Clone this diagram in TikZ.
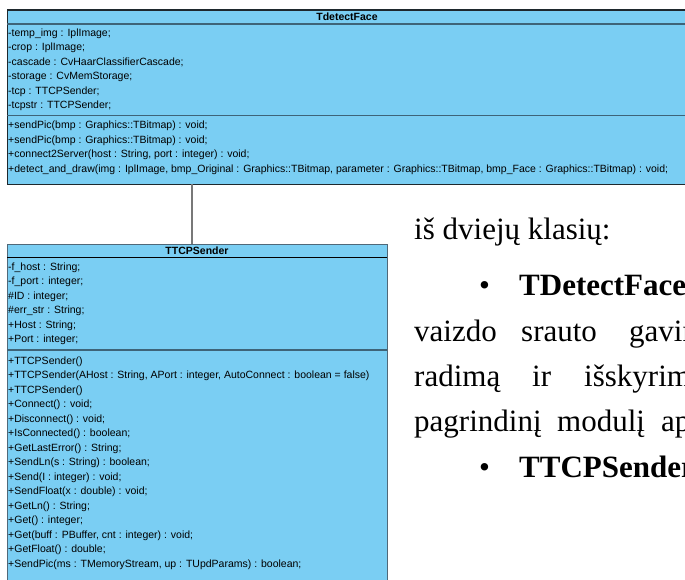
\documentclass[tikz,border=0pt]{standalone}
\usepackage{fontspec}
\setmainfont{Liberation Serif}
\newfontfamily\umlfont{Liberation Sans}
\definecolor{umlfill}{RGB}{122,206,243}
\definecolor{umlsep}{RGB}{62,100,120}
\definecolor{umlborder}{RGB}{30,40,45}
\definecolor{umlborderb}{RGB}{80,104,120}
\definecolor{linkgray}{RGB}{120,120,120}
\tikzset{
  classbox/.style={rectangle, fill=umlfill, inner sep=0pt, anchor=north west},
  sepline/.style={umlsep, line width=1.1pt},
  attr/.style={anchor=west, inner sep=0pt, font=\umlfont\fontsize{10.5}{12}\selectfont, text=black},
  ttl/.style={anchor=center, inner sep=0pt, font=\umlfont\bfseries\fontsize{10.5}{12}\selectfont, text=black},
  doc/.style={anchor=base west, inner sep=0pt, font=\fontsize{31}{36}\selectfont, text=black},
  docb/.style={doc, font=\fontsize{31}{36}\selectfont\bfseries},
  link/.style={linkgray, line width=1.2pt},
}
\begin{document}
\begin{tikzpicture}[x=1pt,y=-1pt]
\useasboundingbox (0,0) rectangle (685,580);
\clip (0,0) rectangle (685,580);
\fill[white] (0,0) rectangle (685,580);

% ---------- TdetectFace ----------
\node[classbox, draw=umlborder, line width=1.1pt, minimum width=680pt, minimum height=174.5pt] (tdf) at (7,9.5) {};
\draw[sepline] (7,24) -- (687,24);
\draw[sepline] (7,115.5) -- (687,115.5);
\node[ttl] (tdft) at (347,16.5) {TdetectFace};
\node[attr] (a1) at (8,33.5) {-temp\_img : IplImage;};
\node[attr] (a2) at (8,48) {-crop : IplImage;};
\node[attr] (a3) at (8,62.5) {-cascade : CvHaarClassifierCascade;};
\node[attr] (a4) at (8,77) {-storage : CvMemStorage;};
\node[attr] (a5) at (8,91.5) {-tcp : TTCPSender;};
\node[attr] (a6) at (8,106) {-tcpstr : TTCPSender;};
\node[attr] (m1) at (8,126) {+sendPic(bmp : Graphics::TBitmap) : void;};
\node[attr] (m2) at (8,140.5) {+sendPic(bmp : Graphics::TBitmap) : void;};
\node[attr] (m3) at (8,155) {+connect2Server(host : String, port : integer) : void;};
\node[attr] (m4) at (8,169.5) {+detect\_and\_draw(img : IplImage, bmp\_Original : Graphics::TBitmap, parameter : Graphics::TBitmap, bmp\_Face : Graphics::TBitmap) : void;};

% ---------- TTCPSender ----------
\node[classbox, draw=umlborderb, line width=1.1pt, minimum width=380pt, minimum height=350pt] (tcp) at (7,243.5) {};
\draw[black, line width=1.1pt] (7,257.5) -- (387,257.5);
\draw[sepline] (7,350) -- (387,350);
\node[ttl] (tcpt) at (197,251) {TTCPSender};
\node[attr] (b1) at (8,267.5) {-f\_host : String;};
\node[attr] (b2) at (8,282) {-f\_port : integer;};
\node[attr] (b3) at (8,296.5) {\#ID : integer;};
\node[attr] (b4) at (8,311) {\#err\_str : String;};
\node[attr] (b5) at (8,325.5) {+Host : String;};
\node[attr] (b6) at (8,340) {+Port : integer;};
\node[attr] (c1) at (8,361.5) {+TTCPSender()};
\node[attr] (c2) at (8,376) {+TTCPSender(AHost : String, APort : integer, AutoConnect : boolean = false)};
\node[attr] (c3) at (8,390.5) {+TTCPSender()};
\node[attr] (c4) at (8,405) {+Connect() : void;};
\node[attr] (c5) at (8,419.5) {+Disconnect() : void;};
\node[attr] (c6) at (8,434) {+IsConnected() : boolean;};
\node[attr] (c7) at (8,448.5) {+GetLastError() : String;};
\node[attr] (c8) at (8,463) {+SendLn(s : String) : boolean;};
\node[attr] (c9) at (8,477.5) {+Send(I : integer) : void;};
\node[attr] (c10) at (8,492) {+SendFloat(x : double) : void;};
\node[attr] (c11) at (8,506.5) {+GetLn() : String;};
\node[attr] (c12) at (8,521) {+Get() : integer;};
\node[attr] (c13) at (8,535.5) {+Get(buff : PBuffer, cnt : integer) : void;};
\node[attr] (c14) at (8,550) {+GetFloat() : double;};
\node[attr] (c15) at (8,564.5) {+SendPic(ms : TMemoryStream, up : TUpdParams) : boolean;};

% ---------- connector ----------
\coordinate (lk) at (192,184);
\draw[link] (lk) -- (lk |- tcp.north);

% ---------- document text ----------
\node[doc] (t1) at (414,240) {iš dviejų klasių:};
\node[doc] (bl1) at (479,295) {\textbullet};
\node[docb] (t2) at (519,295) {TDetectFace};
\node[doc] (w1) at (414,341) {vaizdo};
\node[doc] (w2) at (521,341) {srauto};
\node[doc] (w3) at (629,341) {gavim};
\node[doc] (w4) at (414,386) {radimą};
\node[doc] (w5) at (532,386) {ir};
\node[doc] (w6) at (584,386) {išskyrim};
\node[doc] (w7) at (414,431) {pagrindinį};
\node[doc] (w8) at (557,431) {modulį};
\node[doc] (w9) at (661,431) {ap};
\node[doc] (bl2) at (479,477) {\textbullet};
\node[docb] (t3) at (519,477) {TTCPSender};
\end{tikzpicture}
\end{document}
